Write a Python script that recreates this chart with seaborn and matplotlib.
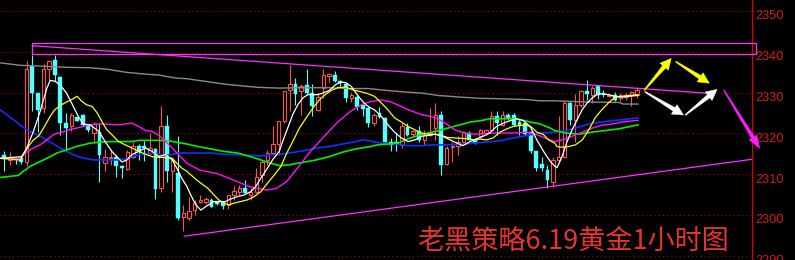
import matplotlib
matplotlib.use("Agg")
import numpy as np
import matplotlib.pyplot as plt
from matplotlib.patches import Polygon
from matplotlib.transforms import IdentityTransform
import seaborn as sns

# ---- hourly gold candles (oldest -> newest) ----
opens = [2314.8, 2313.5, 2313.8, 2313.9, 2312.9, 2336.5, 2329.9, 2326.2, 2335.7, 2338.1,
         2333.9, 2322.5, 2321.7, 2323.9, 2324.4, 2322.1, 2320.2, 2320.3, 2312.7, 2313.9,
         2314.3, 2312.1, 2311.3, 2314.3, 2317.0, 2317.0, 2315.2, 2316.2, 2306.6, 2321.9,
         2310.7, 2310.2, 2299.6, 2299.2, 2301.2, 2303.1, 2303.3, 2303.7, 2303.3, 2303.1,
         2302.5, 2304.9, 2305.7, 2306.7, 2304.9, 2305.7, 2309.8, 2313.5, 2315.2, 2317.4,
         2323.0, 2330.7, 2332.1, 2330.3, 2331.8, 2329.9, 2325.8, 2331.1, 2334.0, 2334.4,
         2332.8, 2332.0, 2328.7, 2328.9, 2326.9, 2326.2, 2322.5, 2325.0, 2323.8, 2318.0,
         2317.8, 2317.2, 2321.5, 2319.8, 2320.7, 2318.3, 2319.6, 2321.3, 2324.6, 2312.5,
         2316.6, 2316.8, 2318.0, 2320.1, 2318.4, 2319.3, 2320.1, 2320.9, 2324.2, 2322.1,
         2324.4, 2324.6, 2322.9, 2322.5, 2320.3, 2315.7, 2312.5, 2311.1, 2308.2, 2313.5,
         2314.3, 2327.5, 2323.4, 2327.0, 2330.5, 2329.5, 2331.6, 2329.8, 2329.1, 2329.5,
         2328.7, 2328.9, 2329.3, 2329.5]
highs = [2315.7, 2315.4, 2314.3, 2314.3, 2337.7, 2339.3, 2330.0, 2337.0, 2338.1, 2339.3,
         2334.0, 2325.0, 2325.0, 2324.0, 2324.7, 2322.3, 2322.8, 2322.5, 2316.2, 2316.2,
         2314.8, 2312.3, 2316.0, 2318.0, 2317.4, 2318.2, 2320.1, 2316.4, 2326.6, 2324.6,
         2314.1, 2319.3, 2302.5, 2304.5, 2303.7, 2304.9, 2304.3, 2304.1, 2303.5, 2303.3,
         2304.9, 2307.0, 2307.4, 2308.6, 2306.6, 2311.5, 2313.5, 2316.0, 2321.7, 2323.1,
         2330.5, 2336.7, 2333.6, 2332.1, 2335.7, 2332.1, 2329.9, 2335.7, 2334.8, 2335.4,
         2333.0, 2332.6, 2329.9, 2329.5, 2327.0, 2326.6, 2325.0, 2326.4, 2323.9, 2318.9,
         2320.1, 2322.5, 2322.5, 2320.9, 2321.7, 2320.9, 2326.2, 2327.5, 2325.6, 2316.8,
         2317.9, 2319.3, 2320.7, 2320.7, 2318.9, 2321.1, 2321.1, 2325.6, 2325.4, 2325.6,
         2325.0, 2325.0, 2323.6, 2322.8, 2320.7, 2315.7, 2314.3, 2312.3, 2314.3, 2324.2,
         2327.9, 2327.7, 2329.7, 2330.7, 2333.2, 2331.6, 2331.8, 2330.7, 2329.7, 2330.2,
         2329.9, 2329.9, 2330.5, 2331.3]
lows = [2310.8, 2312.3, 2312.5, 2312.5, 2311.9, 2325.4, 2320.3, 2325.0, 2333.2, 2332.8,
        2319.7, 2315.7, 2320.7, 2323.0, 2321.7, 2320.3, 2317.6, 2308.2, 2310.7, 2312.3,
        2309.4, 2309.0, 2311.1, 2313.9, 2313.5, 2313.3, 2314.8, 2303.9, 2305.6, 2308.2,
        2305.7, 2298.8, 2296.0, 2298.8, 2300.0, 2302.9, 2302.6, 2301.9, 2302.5, 2301.5,
        2301.5, 2303.7, 2304.9, 2305.3, 2303.7, 2305.3, 2308.2, 2312.3, 2314.8, 2314.8,
        2322.5, 2325.4, 2327.0, 2324.6, 2329.7, 2324.2, 2325.4, 2328.7, 2332.6, 2332.6,
        2331.6, 2327.7, 2327.7, 2325.8, 2324.2, 2321.5, 2321.7, 2323.8, 2317.9, 2315.6,
        2315.6, 2316.4, 2319.3, 2319.3, 2317.9, 2317.2, 2319.3, 2318.4, 2309.8, 2312.3,
        2313.1, 2314.8, 2317.6, 2318.3, 2317.4, 2318.9, 2319.7, 2320.7, 2319.7, 2321.7,
        2323.4, 2321.7, 2319.7, 2319.5, 2315.2, 2310.8, 2310.8, 2306.7, 2307.0, 2313.1,
        2313.9, 2322.1, 2318.0, 2326.4, 2328.3, 2327.5, 2328.5, 2328.9, 2328.9, 2327.9,
        2328.0, 2328.3, 2326.6, 2328.7]
closes = [2313.8, 2314.0, 2313.6, 2312.9, 2335.9, 2329.9, 2325.8, 2335.7, 2337.7, 2334.3,
          2322.5, 2321.3, 2324.6, 2323.1, 2322.1, 2320.9, 2322.2, 2314.8, 2314.1, 2314.3,
          2312.1, 2311.5, 2315.4, 2316.8, 2315.4, 2316.5, 2316.4, 2306.4, 2321.9, 2310.8,
          2313.5, 2299.2, 2300.6, 2301.0, 2302.9, 2303.7, 2303.9, 2302.0, 2302.6, 2302.3,
          2304.9, 2305.9, 2306.7, 2305.3, 2305.7, 2309.4, 2313.1, 2315.2, 2317.4, 2323.0,
          2330.3, 2332.0, 2329.7, 2331.6, 2329.9, 2326.6, 2328.9, 2334.4, 2334.6, 2332.8,
          2332.3, 2328.7, 2329.5, 2326.4, 2326.0, 2322.5, 2324.6, 2323.9, 2318.0, 2317.2,
          2317.3, 2321.7, 2319.7, 2320.7, 2318.4, 2319.5, 2320.1, 2324.6, 2312.3, 2316.4,
          2316.9, 2318.0, 2320.3, 2318.4, 2317.6, 2320.9, 2320.9, 2324.2, 2322.5, 2324.6,
          2323.8, 2322.1, 2321.7, 2319.8, 2315.6, 2311.5, 2311.5, 2308.6, 2313.5, 2314.1,
          2327.5, 2323.4, 2326.9, 2330.5, 2329.7, 2331.1, 2329.5, 2329.5, 2329.5, 2328.3,
          2329.3, 2329.5, 2330.2, 2330.7]

# ---- moving-average traces (bar index, price) ----
ma_white_x = [-0.77, 3.1, 4.0, 5.2, 6.4, 7.6, 8.2, 9.0, 9.9, 11.1, 12.0, 13.2, 14.1, 15.3, 16.9,
              18.0, 19.2, 20.1, 21.0, 21.9, 22.8, 24.0, 25.2, 26.4, 27.6, 28.8, 30.0, 30.8, 31.7,
              32.6, 33.3, 34.2, 35.1, 35.7, 36.6, 37.4, 39.5, 40.4, 41.6, 42.8, 44.0, 44.9, 45.8,
              47.0, 47.9, 49.1, 49.7, 50.6, 51.5, 52.4, 53.3, 54.2, 56.0, 56.9, 58.0, 59.2, 60.1,
              61.0, 61.9, 62.8, 63.7, 64.6, 65.5, 66.1, 67.3, 68.5, 69.7, 70.9, 72.1, 73.3, 74.5,
              75.7, 76.9, 78.0, 79.2, 80.4, 81.9, 83.2, 84.4, 85.5, 86.7, 87.9, 89.1, 90.3, 91.5,
              92.7, 93.9, 95.1, 96.3, 97.5, 98.3, 98.7, 99.6, 100.5, 101.4, 102.3, 103.2, 104.1,
              105.0, 105.8, 106.7, 107.9, 109.1, 110.3, 111.5, 113.2]
ma_white_y = [2313.9, 2314.3, 2316.4, 2320.5, 2325.4, 2331.1, 2333.0, 2332.8, 2332.0, 2329.9,
              2327.5, 2324.2, 2322.3, 2322.1, 2320.5, 2318.0, 2315.6, 2314.3, 2313.0, 2313.5,
              2314.8, 2315.6, 2316.4, 2315.6, 2314.3, 2314.8, 2313.5, 2311.5, 2309.0, 2307.0,
              2304.9, 2302.5, 2301.2, 2301.8, 2302.6, 2303.3, 2303.3, 2303.9, 2304.5, 2304.9,
              2305.7, 2307.0, 2309.0, 2311.5, 2313.5, 2315.6, 2318.0, 2321.3, 2324.6, 2327.0,
              2328.7, 2329.5, 2329.5, 2329.9, 2330.5, 2332.0, 2332.6, 2332.4, 2331.6, 2329.9,
              2328.3, 2327.0, 2326.2, 2325.8, 2324.2, 2322.1, 2320.3, 2318.9, 2318.0, 2318.4,
              2319.3, 2319.5, 2319.8, 2319.5, 2318.7, 2317.9, 2317.0, 2318.0, 2318.7, 2319.3,
              2320.1, 2321.7, 2322.5, 2323.1, 2323.6, 2323.1, 2321.7, 2318.4, 2315.6, 2313.1,
              2312.0, 2311.6, 2314.3, 2318.0, 2320.9, 2323.4, 2325.8, 2327.5, 2328.7, 2329.5,
              2329.7, 2329.5, 2329.1, 2328.9, 2329.1, 2329.3]

ma_yellow_x = [-0.77, 2.8, 3.4, 4.3, 5.2, 6.1, 7.0, 8.2, 9.0, 10.2, 11.4, 12.3, 13.0, 13.8, 14.7,
               15.7, 16.6, 17.4, 18.3, 19.2, 20.4, 21.6, 22.8, 24.0, 25.2, 26.4, 27.6, 28.8, 30.0,
               30.8, 31.7, 32.6, 34.0, 35.1, 36.3, 37.4, 38.3, 39.2, 40.1, 41.0, 42.2, 43.4, 44.6,
               45.8, 47.0, 48.2, 49.4, 50.3, 51.5, 52.7, 53.9, 55.1, 56.3, 57.5, 58.6, 59.8, 61.0,
               62.2, 63.4, 64.6, 66.1, 67.3, 68.5, 69.7, 70.9, 72.1, 73.3, 74.5, 75.7, 76.9, 78.0,
               79.2, 80.4, 82.6, 83.8, 85.0, 86.1, 87.3, 88.5, 89.7, 90.9, 92.1, 93.3, 94.2, 95.1,
               96.3, 97.2, 98.3, 98.7, 99.6, 100.8, 102.0, 103.2, 104.4, 105.5, 106.7, 107.9,
               109.1, 110.3, 111.5, 113.2]
ma_yellow_y = [2313.9, 2313.5, 2314.8, 2316.8, 2318.4, 2319.3, 2321.3, 2324.2, 2325.8, 2327.0,
               2327.9, 2328.5, 2329.1, 2327.9, 2327.0, 2326.6, 2325.0, 2323.0, 2320.9, 2319.7,
               2318.0, 2317.2, 2316.4, 2315.6, 2314.9, 2314.3, 2314.1, 2314.1, 2313.9, 2312.7,
               2311.5, 2310.7, 2309.0, 2307.8, 2306.6, 2305.0, 2303.7, 2302.9, 2302.5, 2302.9,
               2303.3, 2303.7, 2304.5, 2305.7, 2307.8, 2309.8, 2311.9, 2314.8, 2318.0, 2321.3,
               2323.8, 2326.2, 2328.3, 2329.7, 2330.7, 2331.3, 2331.3, 2330.7, 2330.3, 2329.9,
               2329.1, 2327.5, 2325.8, 2323.8, 2322.8, 2321.7, 2320.9, 2320.1, 2319.8, 2319.8,
               2319.5, 2319.0, 2318.9, 2318.7, 2318.4, 2318.6, 2318.4, 2318.9, 2320.3, 2321.1,
               2321.7, 2322.0, 2322.0, 2321.5, 2320.3, 2319.7, 2318.4, 2317.6, 2316.8, 2316.6,
               2316.8, 2317.2, 2318.4, 2320.9, 2323.8, 2325.8, 2327.5, 2328.9, 2329.1, 2329.3,
               2329.5]

ma_magenta_x = [-0.77, 2.8, 3.7, 5.2, 6.4, 7.6, 8.8, 10.2, 11.7, 12.9, 14.1, 15.3, 16.2, 18.0,
                20.4, 21.6, 22.8, 24.0, 25.2, 26.4, 27.6, 28.8, 30.0, 31.1, 32.6, 34.9, 37.9,
                40.9, 43.9, 46.9, 48.6, 50.4, 52.2, 54.6, 57.0, 59.4, 61.7, 64.0, 65.5, 67.3,
                68.9, 70.9, 72.1, 73.3, 74.5, 75.7, 76.9, 78.0, 79.2, 80.4, 81.9, 83.8, 86.1,
                88.5, 90.9, 93.3, 95.1, 96.9, 98.3, 99.6, 101.4, 103.2, 105.0, 106.7, 108.5,
                110.3, 113.2]
ma_magenta_y = [2313.9, 2313.9, 2315.2, 2316.4, 2317.2, 2318.4, 2319.7, 2320.3, 2320.9, 2321.3,
                2321.7, 2322.1, 2322.3, 2322.3, 2322.1, 2322.3, 2322.5, 2321.7, 2320.7, 2320.5,
                2319.5, 2318.0, 2316.4, 2314.8, 2312.7, 2311.0, 2310.2, 2308.6, 2306.9, 2306.1,
                2306.5, 2308.2, 2311.2, 2315.5, 2319.1, 2322.6, 2325.3, 2327.2, 2327.8, 2328.2,
                2327.8, 2326.6, 2325.8, 2325.2, 2324.6, 2324.3, 2323.9, 2323.1, 2322.1, 2320.9,
                2320.2, 2319.8, 2320.0, 2320.1, 2320.1, 2320.3, 2319.7, 2318.7, 2318.0, 2318.4,
                2319.3, 2320.3, 2321.3, 2322.0, 2322.3, 2322.8, 2323.2]

ma_green_x = [-0.77, 2.5, 3.4, 4.6, 5.8, 7.0, 8.2, 9.4, 10.5, 11.7, 12.9, 14.1, 15.3, 17.4, 19.2,
              22.8, 24.0, 27.6, 29.4, 30.5, 31.7, 32.6, 34.5, 36.9, 39.2, 41.6, 44.0, 45.8, 47.6,
              49.1, 50.9, 53.3, 55.7, 58.0, 60.4, 62.8, 65.5, 66.7, 68.5, 70.3, 72.1, 73.9, 75.7,
              77.5, 79.2, 81.9, 83.2, 85.0, 86.7, 90.3, 92.1, 93.9, 95.7, 97.5, 98.3, 100.2,
              102.6, 104.9, 107.3, 109.7, 113.2]
ma_green_y = [2309.2, 2309.7, 2310.7, 2311.9, 2312.7, 2313.5, 2314.3, 2315.2, 2315.7, 2316.2,
              2316.8, 2317.2, 2317.6, 2317.9, 2318.0, 2318.0, 2318.3, 2318.3, 2318.2, 2317.9,
              2317.6, 2317.4, 2316.8, 2316.2, 2315.6, 2315.2, 2314.3, 2313.5, 2312.7, 2312.1,
              2312.3, 2312.9, 2313.5, 2314.3, 2315.4, 2316.2, 2316.8, 2317.2, 2317.4, 2317.6,
              2318.7, 2319.5, 2320.1, 2320.7, 2321.3, 2322.3, 2322.8, 2323.1, 2323.6, 2323.6,
              2323.4, 2322.8, 2322.3, 2321.3, 2320.7, 2320.1, 2319.8, 2320.3, 2320.7, 2321.1,
              2322.1]

ma_blue_x = [-0.77, 0.4, 1.6, 2.8, 4.0, 5.2, 6.4, 7.6, 8.8, 10.0, 11.1, 12.3, 13.5, 14.7, 16.2,
             20.4, 21.6, 22.8, 24.0, 25.2, 26.4, 27.6, 28.8, 30.0, 31.1, 36.9, 39.2, 41.6, 44.0,
             46.4, 48.5, 50.9, 53.3, 55.7, 58.0, 60.4, 62.8, 64.0, 65.5, 67.3, 69.7, 72.1, 74.5,
             76.9, 79.2, 81.9, 83.8, 86.1, 88.5, 90.9, 93.3, 95.7, 98.3, 101.4, 105.0, 108.5,
             113.2]
ma_blue_y = [2325.8, 2324.6, 2323.4, 2322.1, 2320.9, 2320.1, 2319.3, 2318.4, 2317.4, 2316.4,
             2315.6, 2314.8, 2314.2, 2313.8, 2313.5, 2313.5, 2313.8, 2314.3, 2314.8, 2314.9,
             2315.2, 2314.9, 2314.6, 2314.8, 2315.2, 2315.2, 2314.9, 2314.8, 2314.6, 2314.5,
             2314.8, 2315.2, 2315.7, 2316.4, 2316.8, 2317.4, 2318.0, 2318.4, 2318.1, 2317.6,
             2317.4, 2317.0, 2317.0, 2317.2, 2317.2, 2317.4, 2317.6, 2317.9, 2318.2, 2318.9,
             2319.5, 2320.1, 2320.3, 2321.1, 2322.5, 2323.1, 2323.8]

ma_gray_x = [-0.77, 2.8, 6.4, 11.1, 15.3, 18.6, 21.6, 24.6, 27.6, 30.5, 32.6, 35.7, 39.2, 42.8,
             45.2, 49.1, 52.8, 58.0, 61.7, 65.0, 68.5, 72.0, 74.5, 77.5, 81.4, 85.0, 88.5, 93.3,
             95.5, 98.3, 100.0, 104.0, 109.7, 110.5, 113.2]
ma_gray_y = [2337.3, 2336.7, 2336.5, 2336.2, 2336.1, 2335.7, 2335.0, 2334.6, 2334.3, 2333.6,
             2333.4, 2332.8, 2332.1, 2331.6, 2331.3, 2331.1, 2331.2, 2331.2, 2331.0, 2331.0,
             2330.5, 2330.1, 2329.9, 2329.3, 2328.9, 2328.6, 2328.5, 2328.3, 2328.0, 2328.0,
             2327.9, 2327.7, 2327.6, 2327.2, 2327.2]

# ---- drawn trend lines, resistance zone, forecast arrows ----
upper_trend_x = [4.95, 126.0]
upper_trend_y = [2341.5, 2329.8]
lower_trend_x = [32.1, 133.5]
lower_trend_y = [2294.8, 2313.65]
zone_x = [4.95, 134.2]
zone_y = [2339.5, 2342.1]
arrow_tail_x = [114.3, 119.9, 114.4, 121.6, 128.5]
arrow_tail_y = [2330.6, 2337.6, 2330.2, 2324.5, 2330.6]
arrow_tip_x = [119.1, 125.9, 121.3, 127.3, 134.9]
arrow_tip_y = [2338.4, 2332.3, 2324.5, 2330.8, 2316.3]
arrow_colors = ["#ffff00", "#ffff00", "#ffffff", "#ffffff", "#ff1cff"]

price_ticks = [2290, 2300, 2310, 2320, 2330, 2340, 2350]
title_text = "老黑策略6.19黄金1小时图"

sns.set_theme(style="dark")
plt.rcParams["font.family"] = ["Noto Sans CJK SC", "DejaVu Sans"]

W, H = 795, 260
fig = plt.figure(figsize=(W / 100, H / 100), dpi=100, facecolor="black")
ax = fig.add_axes([0, 0, 752 / W, 1])
ax.set_facecolor("black")
ax.grid(False)

# dotted horizontal price levels
for p in price_ticks:
    ax.axhline(p, color="#c00000", lw=0.75, linestyle=(0, (1, 3)), zorder=1)

# candles
idx = np.arange(len(opens))
o = np.array(opens); h = np.array(highs); l = np.array(lows); c = np.array(closes)
up = c >= o
body_w = 0.6
up_col = "#ff5050"
dn_col = "#55ffff"
top = np.maximum(o, c)
bot = np.minimum(o, c)
# up candles: hollow body with wicks above and below
ax.vlines(idx[up], top[up], h[up], color=up_col, lw=0.8, zorder=2)
ax.vlines(idx[up], l[up], bot[up], color=up_col, lw=0.8, zorder=2)
ax.bar(idx[up], np.maximum(top[up] - bot[up], 0.12), bottom=bot[up], width=body_w,
       facecolor="black", edgecolor=up_col, linewidth=0.8, zorder=3)
# down candles: filled body over a full-range wick
ax.vlines(idx[~up], l[~up], h[~up], color=dn_col, lw=0.8, zorder=2)
ax.bar(idx[~up], np.maximum(top[~up] - bot[~up], 0.15), bottom=bot[~up], width=body_w + 0.1,
       facecolor=dn_col, edgecolor=dn_col, linewidth=0.3, zorder=3)

# moving averages
for xs, ys, col, lw in [
    (ma_gray_x, ma_gray_y, "#8a8a8a", 1.0),
    (ma_blue_x, ma_blue_y, "#1030ff", 1.2),
    (ma_green_x, ma_green_y, "#00f000", 1.2),
    (ma_magenta_x, ma_magenta_y, "#ff10ff", 1.0),
    (ma_yellow_x, ma_yellow_y, "#ffff00", 0.9),
    (ma_white_x, ma_white_y, "#ffffff", 0.9),
]:
    sns.lineplot(x=xs, y=ys, ax=ax, color=col, linewidth=lw, estimator=None,
                 sort=False, zorder=4)

# trend channel lines and resistance zone
ax.plot(upper_trend_x, upper_trend_y, color="#ff30ff", lw=0.9, zorder=4)
ax.plot(lower_trend_x, lower_trend_y, color="#ff30ff", lw=0.9, zorder=4)
ax.plot([zone_x[0], zone_x[1], zone_x[1], zone_x[0], zone_x[0]],
        [zone_y[0], zone_y[0], zone_y[1], zone_y[1], zone_y[0]],
        color="#ff30ff", lw=0.9, zorder=4, clip_on=False)

ax.set_xlim(-0.768, 133.52)
ax.set_ylim(2288.97, 2352.70)
ax.set_xticks([]); ax.set_yticks([])
ax.set_xlabel(""); ax.set_ylabel("")
for side in ["left", "top", "bottom"]:
    ax.spines[side].set_visible(False)
ax.spines["right"].set_color("#e00000")
ax.spines["right"].set_linewidth(0.9)

# price labels on the right
for p in price_ticks:
    ax.text(1.0049, p - 2.05, str(p), transform=ax.get_yaxis_transform(),
            color="#d41c1c", fontsize=9.2, family="Liberation Sans",
            ha="left", va="baseline", clip_on=False)

# forecast arrows (tapered shaft + head), built in pixel space
def tapered_arrow(p0, p1, tail_w, neck_w, head_w, head_len):
    p0 = np.asarray(p0, float); p1 = np.asarray(p1, float)
    d = (p1 - p0) / np.hypot(*(p1 - p0))
    n = np.array([-d[1], d[0]])
    neck = p1 - d * head_len
    return np.array([p0 + n * tail_w / 2, neck + n * neck_w / 2, neck + n * head_w / 2, p1,
                     neck - n * head_w / 2, neck - n * neck_w / 2, p0 - n * tail_w / 2])

fig.canvas.draw()
for tx, ty, hx, hy, col in zip(arrow_tail_x, arrow_tail_y, arrow_tip_x, arrow_tip_y, arrow_colors):
    p0 = ax.transData.transform((tx, ty))
    p1 = ax.transData.transform((hx, hy))
    if col == "#ff1cff":
        pts = tapered_arrow(p0, p1, 1.0, 3.5, 9.0, 13.0)
    else:
        pts = tapered_arrow(p0, p1, 1.0, 4.0, 11.0, 11.0)
    fig.add_artist(Polygon(pts, closed=True, facecolor=col, edgecolor=col, lw=0.3,
                           transform=IdentityTransform(), zorder=6))

fig.text(417 / W, 11 / H, title_text, color="#e8342f", fontsize=19.5,
         family=["Noto Sans CJK SC", "DejaVu Sans"], ha="left", va="baseline")

fig.savefig("out.png", dpi=100, facecolor="black")
